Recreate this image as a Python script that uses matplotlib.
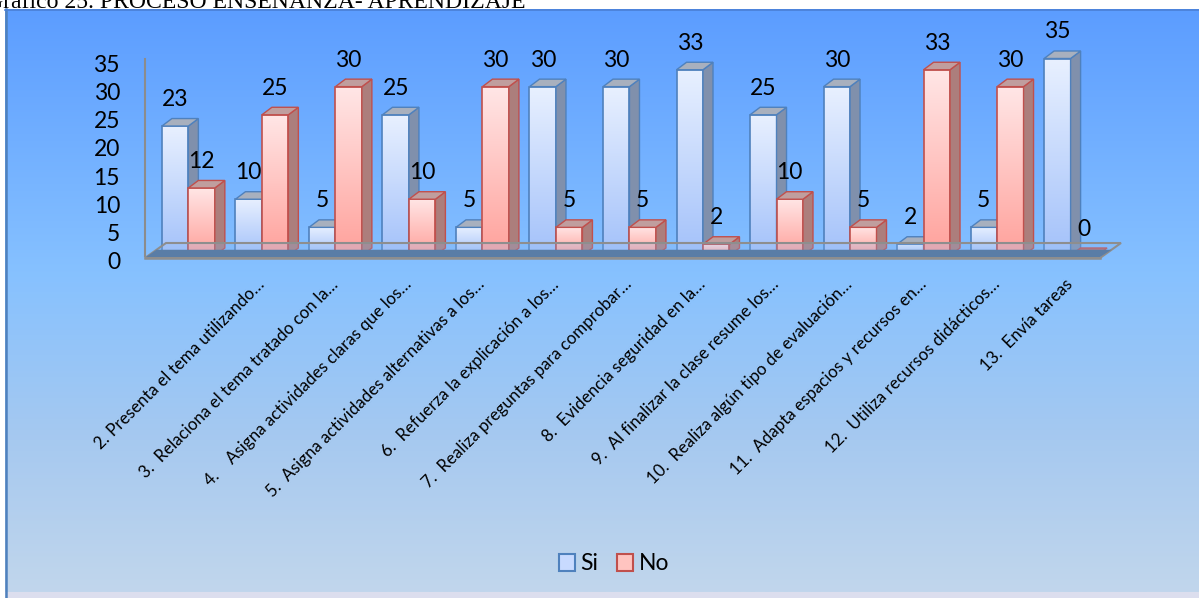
import numpy as np
import matplotlib
matplotlib.use("Agg")
import matplotlib.pyplot as plt
from matplotlib.patches import Polygon, Rectangle, Patch
from matplotlib.colors import LinearSegmentedColormap
import matplotlib.transforms as mtransforms

# ---------------- data ----------------
categories = [
    "",
    "2. Presenta el tema utilizando…",
    "3.  Relaciona el tema tratado con la…",
    "4.    Asigna actividades claras que los…",
    "5.  Asigna actividades alternativas a los…",
    "6.  Refuerza la explicación a los…",
    "7.  Realiza preguntas para comprobar…",
    "8.  Evidencia seguridad en la…",
    "9.  Al finalizar la clase resume los…",
    "10.  Realiza algún tipo de evaluación…",
    "11.  Adapta espacios y recursos en…",
    "12.  Utiliza recursos didácticos…",
    "13.  Envía tareas",
]
si_values = [23, 10, 5, 25, 5, 30, 30, 33, 25, 30, 2, 5, 35]
no_values = [12, 25, 30, 10, 30, 5, 5, 2, 10, 5, 33, 30, 0]
series_names = ["Si", "No"]
yticks = [0, 5, 10, 15, 20, 25, 30, 35]
title_text = "Gráfico 25. PROCESO ENSEÑANZA- APRENDIZAJE"

# ---------------- styling ----------------
W, H = 1199, 598
FONT = ["Lato", "DejaVu Sans"]
plt.rcParams["font.family"] = FONT
BIG = 16.5

fig = plt.figure(figsize=(W / 100, H / 100), dpi=100)
fig.patch.set_facecolor("white")


def px_rect(l, t, r, b):
    return [l / W, 1 - b / H, (r - l) / W, (b - t) / H]


# chart background (gradient)
bg = fig.add_axes(px_rect(5, 9, W, 592), zorder=-5)
bg_cmap = LinearSegmentedColormap.from_list(
    "bg",
    [(0.0, (92/255, 157/255, 255/255)),
     (0.45, (134/255, 193/255, 255/255)),
     (0.74, (166/255, 201/255, 240/255)),
     (1.0, (193/255, 214/255, 236/255))])
bg.imshow(np.linspace(0, 1, 256).reshape(-1, 1), aspect="auto", cmap=bg_cmap,
          extent=[0, 1, 0, 1], origin="upper")
bg.set_axis_off()
fig.patches.append(Rectangle((5 / W, 0), 1, 6 / H, transform=fig.transFigure,
                             facecolor=(220/255, 222/255, 238/255), edgecolor="none", zorder=-4))
# chart border (left/top)
fig.lines.append(plt.Line2D([6 / W, 6 / W], [0, 1 - 9 / H], transform=fig.transFigure,
                            color="#4F81BD", lw=1.8, zorder=5))
fig.lines.append(plt.Line2D([5 / W, 1], [1 - 9.5 / H, 1 - 9.5 / H], transform=fig.transFigure,
                            color="#4A7FD6", lw=1.2, zorder=5))

# title above the chart (partly cut by the top edge, as in the source)
t = fig.text(-14 / W, 1 - 7.5 / H, title_text, family=["Liberation Serif", "DejaVu Serif"],
             fontsize=15, va="baseline", ha="left", color="black", zorder=1)
fig.canvas.draw()
bb = t.get_window_extent()
t.set_fontsize(15 * 541 / bb.width)

# main plotting axes
ax = fig.add_axes(px_rect(145, 58.5, 1100, 255.5), zorder=1)
ax.set_facecolor("none")
n = len(categories)
x = np.arange(n)
ax.set_xlim(-0.59, 12.40)
ax.set_ylim(0, 35)
for s in ["top", "right", "bottom"]:
    ax.spines[s].set_visible(False)
ax.spines["left"].set_color("#8C8C8C")
ax.spines["left"].set_linewidth(1.5)

fig.canvas.draw()
p0 = ax.transData.transform((0, 0))
p1 = ax.transData.transform((1, 1))
ppx, ppy = p1[0] - p0[0], p1[1] - p0[1]
dxd, dyd = 10 / ppx, 7.5 / ppy  # bar depth offsets in data units

# floor (3D base)
bbx = ax.get_window_extent()
fx0, fx1, fy = bbx.x0, bbx.x1, bbx.y0 - 2.5
fdx, fdy = 21, 15
floor = Polygon([(fx0, fy), (fx1, fy), (fx1 + fdx, fy + fdy), (fx0 + fdx, fy + fdy)],
                closed=True, transform=None, facecolor=(0.55, 0.72, 0.95, 0.25),
                edgecolor="#8E8E8E", lw=1.5, zorder=1.5)
fig.patches.append(floor)
tb = 0.55
band = Polygon([(fx0 + 1, fy + 1), (fx1, fy + 1), (fx1 + tb * fdx, fy + tb * fdy),
                (fx0 + tb * fdx, fy + tb * fdy)],
               closed=True, transform=None, facecolor="#5A7DA6", edgecolor="none", zorder=1.6)
fig.patches.append(band)
fig.lines.append(plt.Line2D([fx0, fx1], [fy, fy], transform=None, color="#8E8E8E", lw=1.8, zorder=1.7))

bw = 0.36
styles = {
    "Si": dict(top=(232, 240, 255), bottom=(164, 194, 250), edge="#4F81BD",
               side=(128, 144, 172), cap=(168, 176, 190)),
    "No": dict(top=(255, 230, 230), bottom=(255, 162, 156), edge="#C0504D",
               side=(172, 126, 124), cap=(192, 158, 158)),
}


def c(rgb):
    return tuple(v / 255 for v in rgb)


grad = np.linspace(1, 0, 64).reshape(-1, 1)
for i in range(n):
    for s, (name, vals) in enumerate(zip(series_names, [si_values, no_values])):
        st = styles[name]
        h = vals[i]
        xl = x[i] - bw + s * bw
        xr = xl + bw
        z = 2 + i * 0.01 + s * 0.004
        cm = LinearSegmentedColormap.from_list(name + str(i), [c(st["bottom"]), c(st["top"])])
        if h > 0:
            im = ax.imshow(grad, extent=[xl, xr, 0, h], aspect="auto", cmap=cm,
                           vmin=0, vmax=1, zorder=z, interpolation="bilinear")
            im.set_clip_on(False)
            ax.add_patch(Rectangle((xl, 0), bw, h, facecolor="none", edgecolor=st["edge"],
                                   lw=1.2, zorder=z + 0.0005, clip_on=False))
            side = Polygon([(xr, 0), (xr, h), (xr + dxd, h + dyd), (xr + dxd, dyd)], closed=True,
                           facecolor=c(st["side"]), edgecolor=st["edge"], lw=1.0,
                           zorder=z + 0.001, clip_on=False)
            ax.add_patch(side)
        top = Polygon([(xl, h), (xr, h), (xr + dxd, h + dyd), (xl + dxd, h + dyd)], closed=True,
                      facecolor=c(st["cap"]) if h > 0 else (0.72, 0.42, 0.42),
                      edgecolor=st["edge"], lw=1.0, zorder=z + 0.002, clip_on=False)
        ax.add_patch(top)
        ax.annotate(str(h), ((xl + xr) / 2, h), xytext=(0, 20), textcoords="offset pixels",
                    ha="center", va="baseline", fontsize=BIG, color="black", zorder=10,
                    annotation_clip=False)

ax.set_xlim(-0.59, 12.40)
ax.set_ylim(0, 35)
ax.set_yticks(yticks)
ax.set_yticklabels([str(v) for v in yticks], fontsize=BIG)
ax.tick_params(axis="y", length=0, pad=18)
shift = mtransforms.ScaledTranslation(0, -5 / 100, fig.dpi_scale_trans)
for lab in ax.get_yticklabels():
    lab.set_transform(lab.get_transform() + shift)

ax.set_xticks(x)
ax.set_xticklabels(categories, rotation=45, ha="right", va="center",
                   rotation_mode="anchor", fontsize=12.2)
ax.tick_params(axis="x", length=0, pad=19)

# legend
handles = [Patch(facecolor=(200/255, 218/255, 255/255), edgecolor="#4F81BD", lw=1.5),
           Patch(facecolor=(255/255, 196/255, 192/255), edgecolor="#C0504D", lw=1.5)]
leg = fig.legend(handles, series_names, loc="center", bbox_to_anchor=(614 / W, 1 - 564 / H),
                 ncol=2, frameon=False, fontsize=BIG, handlelength=0.7, handleheight=0.7,
                 handletextpad=0.25, columnspacing=0.8)

fig.savefig("out.png", dpi=100)
